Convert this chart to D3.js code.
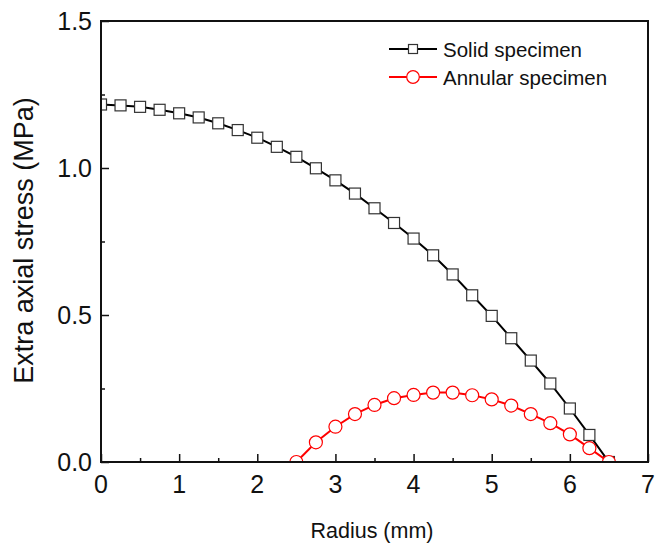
<!DOCTYPE html>
<html>
<head>
<meta charset="utf-8">
<script src="https://cdn.jsdelivr.net/npm/d3@7"></script>
<style>
  body { margin: 0; background: #fff; }
  svg { display: block; font-family: "Liberation Sans", Arial, sans-serif; }
</style>
</head>
<body>
<div class="chart"></div>
<script>
// radius positions (mm) and the two stress series (MPa)
let radius = [0, 0.25, 0.5, 0.75, 1, 1.25, 1.5, 1.75, 2, 2.25, 2.5, 2.75, 3, 3.25,
  3.5, 3.75, 4, 4.25, 4.5, 4.75, 5, 5.25, 5.5, 5.75, 6, 6.25, 6.5];
let solidStress = [1.216, 1.213, 1.208, 1.198, 1.186, 1.172, 1.152, 1.129, 1.103, 1.072, 1.038,
  0.999, 0.958, 0.913, 0.863, 0.813, 0.760, 0.703, 0.638, 0.567, 0.497, 0.421, 0.345,
  0.267, 0.182, 0.092, 0.0];
let annularRadius = [2.5, 2.75, 3, 3.25, 3.5, 3.75, 4, 4.25, 4.5, 4.75, 5, 5.25, 5.5, 5.75, 6, 6.25, 6.5];
let annularStress = [0.0, 0.067, 0.120, 0.163, 0.194, 0.217, 0.228, 0.236, 0.236, 0.227, 0.213,
  0.192, 0.163, 0.132, 0.094, 0.047, 0.0];
let xTicks = [0, 1, 2, 3, 4, 5, 6, 7];
let yTicks = [0.0, 0.5, 1.0, 1.5];
let seriesNames = ['Solid specimen', 'Annular specimen'];

let w = 656, h = 545;
let plotLeft = 101, plotRight = 648, plotTop = 21, plotBottom = 462;

let svg = d3.select('.chart').append('svg').attr('width', w).attr('height', h);

let xScale = d3.scaleLinear().domain([0, 7]).range([plotLeft, plotRight]);
let yScale = d3.scaleLinear().domain([0, 1.5]).range([plotBottom, plotTop]);

let solid = radius.map(function (r, i) { return { r: r, v: solidStress[i] }; });
let annular = annularRadius.map(function (r, i) { return { r: r, v: annularStress[i] }; });

svg.append('clipPath')
  .attr('id', 'plot-area')
  .append('rect')
  .attr('x', plotLeft)
  .attr('y', plotTop)
  .attr('width', plotRight - plotLeft)
  .attr('height', plotBottom - plotTop);

/* ==== AXES ===== */

let xAxis = d3.axisBottom(xScale)
  .tickValues(d3.range(0, 7.01, 0.5))
  .tickSize(0)
  .tickFormat('');
let gx = svg.append('g').attr('transform', 'translate(0,' + plotBottom + ')').call(xAxis);
gx.select('.domain').remove();
gx.selectAll('.tick line')
  .attr('stroke', '#111')
  .attr('stroke-width', 1.5)
  .attr('y2', function (d) { return Number.isInteger(d) ? -8 : -4; });

let yAxis = d3.axisLeft(yScale)
  .tickValues(d3.range(0, 1.51, 0.25))
  .tickSize(0)
  .tickFormat('');
let gy = svg.append('g').attr('transform', 'translate(' + plotLeft + ',0)').call(yAxis);
gy.select('.domain').remove();
gy.selectAll('.tick line')
  .attr('stroke', '#111')
  .attr('stroke-width', 1.5)
  .attr('x2', function (d) { return (Math.round(d * 100) % 50 === 0) ? 8 : 4; });

svg.selectAll('.xlabel')
  .data(xTicks)
  .enter().append('text')
  .attr('x', function (d) { return xScale(d); })
  .attr('y', 493)
  .attr('text-anchor', 'middle')
  .attr('font-size', 25)
  .attr('fill', '#111')
  .text(function (d) { return d; });

svg.selectAll('.ylabel')
  .data(yTicks)
  .enter().append('text')
  .attr('x', 92)
  .attr('y', function (d) { return yScale(d) + 9; })
  .attr('text-anchor', 'end')
  .attr('font-size', 25)
  .attr('fill', '#111')
  .text(function (d) { return d.toFixed(1); });

svg.append('text')
  .text('Radius (mm)')
  .attr('x', 372)
  .attr('y', 538)
  .attr('text-anchor', 'middle')
  .attr('font-size', 21.5)
  .attr('fill', '#111');

svg.append('text')
  .text('Extra axial stress (MPa)')
  .attr('transform', 'translate(33,' + ((98 + 383) / 2) + ') rotate(-90)')
  .attr('text-anchor', 'middle')
  .attr('font-size', 27)
  .attr('fill', '#111');

/* ==== LINES + MARKERS ===== */

let line = d3.line()
  .x(function (d) { return xScale(d.r); })
  .y(function (d) { return yScale(d.v); });

let plot = svg.append('g').attr('clip-path', 'url(#plot-area)');

plot.append('path')
  .datum(solid)
  .attr('d', line)
  .attr('fill', 'none')
  .attr('stroke', '#000')
  .attr('stroke-width', 2);

plot.selectAll('.sq')
  .data(solid)
  .enter().append('rect')
  .attr('x', function (d) { return xScale(d.r) - 5.5; })
  .attr('y', function (d) { return yScale(d.v) - 5.5; })
  .attr('width', 11)
  .attr('height', 11)
  .attr('fill', '#fff')
  .attr('stroke', '#333')
  .attr('stroke-width', 1.2);

plot.append('path')
  .datum(annular)
  .attr('d', line)
  .attr('fill', 'none')
  .attr('stroke', '#f00')
  .attr('stroke-width', 2);

plot.selectAll('.ci')
  .data(annular)
  .enter().append('circle')
  .attr('cx', function (d) { return xScale(d.r); })
  .attr('cy', function (d) { return yScale(d.v); })
  .attr('r', 6.5)
  .attr('fill', '#fff')
  .attr('stroke', '#f00')
  .attr('stroke-width', 1.2);

/* ==== FRAME ===== */

svg.append('rect')
  .attr('x', plotLeft)
  .attr('y', plotTop)
  .attr('width', plotRight - plotLeft)
  .attr('height', plotBottom - plotTop)
  .attr('fill', 'none')
  .attr('stroke', '#111')
  .attr('stroke-width', 2);

/* ==== LEGEND ===== */

let legend = svg.append('g');
let legendRows = [49, 77];

legend.selectAll('line')
  .data(seriesNames)
  .enter().append('line')
  .attr('x1', 389)
  .attr('x2', 437)
  .attr('y1', function (d, i) { return legendRows[i]; })
  .attr('y2', function (d, i) { return legendRows[i]; })
  .attr('stroke', function (d, i) { return i === 0 ? '#000' : '#f00'; })
  .attr('stroke-width', 2);

legend.append('rect')
  .attr('x', 413 - 4.5)
  .attr('y', legendRows[0] - 4.5)
  .attr('width', 9)
  .attr('height', 9)
  .attr('fill', '#fff')
  .attr('stroke', '#333')
  .attr('stroke-width', 1.2);

legend.append('circle')
  .attr('cx', 413)
  .attr('cy', legendRows[1])
  .attr('r', 6.3)
  .attr('fill', '#fff')
  .attr('stroke', '#f00')
  .attr('stroke-width', 1.2);

legend.selectAll('text')
  .data(seriesNames)
  .enter().append('text')
  .attr('x', 443)
  .attr('y', function (d, i) { return legendRows[i] + 7.5; })
  .attr('font-size', 20.5)
  .attr('fill', '#111')
  .text(function (d) { return d; });
</script>
</body>
</html>
